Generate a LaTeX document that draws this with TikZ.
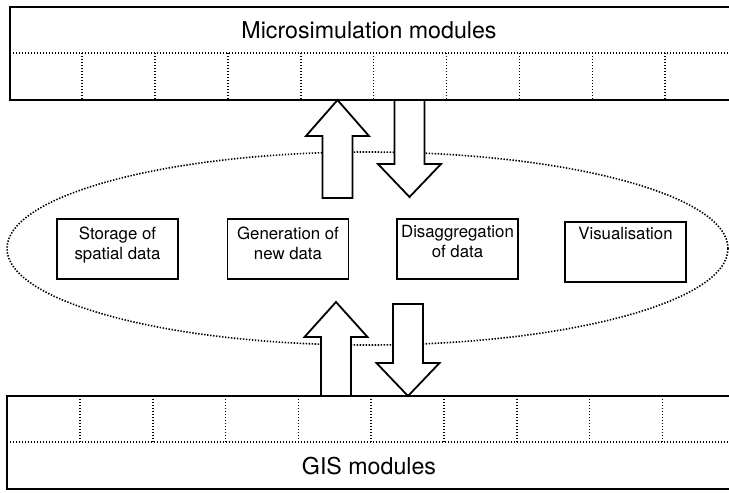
\documentclass[tikz,border=0pt]{standalone}
\usepackage{fontspec}
\setmainfont{TeX Gyre Heros}
\usetikzlibrary{positioning}

\tikzset{
  solidline/.style={line width=0.9pt},
  dotline/.style={line width=0.8pt, dash pattern=on 0.7pt off 0.8pt},
  bartitle/.style={inner sep=0pt, font=\fontsize{11.6}{14}\selectfont},
  procbox/.style={draw, line width=0.9pt, minimum width=60.5pt, minimum height=30pt, inner sep=0pt},
  proctext/.style={align=center, inner sep=0pt, font=\fontsize{8.4}{10}\selectfont},
  bigarrow/.style={draw, line width=0.9pt, fill=white, line join=miter}
}

\begin{document}
\begin{tikzpicture}[x=0.5pt, y=-0.5pt]
  \path[use as bounding box, clip] (0,0) rectangle (729,493);

  % module bars, top and bottom
  \draw[solidline] (10,7) rectangle (745,100);
  \draw[dotline] (10,53) -- (745,53);
  \foreach \i in {0,...,8}
    \draw[dotline] ({82+72.9*\i},53) -- ({82+72.9*\i},100);
  \node[bartitle] (micro) at (369,30) {Microsimulation modules};

  \draw[solidline] (7,396) rectangle (745,489);
  \draw[dotline] (7,442) -- (745,442);
  \foreach \i in {0,...,8}
    \draw[dotline] ({80+72.8*\i},396) -- ({80+72.8*\i},442);
  \node[bartitle] (gis) at (369,466) {GIS modules};

  % GIS functions
  \draw[dotline] (367.5,248.5) ellipse [x radius=360.5, y radius=96.5];

  \node[procbox] (store) at (117.5,249) {};
  \node[proctext, below=4.2pt of store.north] (store-txt) {Storage of\\spatial data};
  \node[procbox] (gen) at (288,249) {};
  \node[proctext, below=4.2pt of gen.north] (gen-txt) {Generation of\\new data};
  \node[procbox] (disagg) at (457.5,249) {};
  \node[proctext, below=3.2pt of disagg.north] (disagg-txt) {Disaggregation\\of data};
  \node[procbox] (vis) at (625.5,252) {};
  \node[proctext, below=3pt of vis.north] (vis-txt) {Visualisation};

  % exchange arrows: centre x / tail y / head base y / tip y
  \foreach \cx/\ya/\yb/\yc in {337.5/198/136/100, 409.5/100/164/197,
                              336/396/337/302, 408/304/363/396}
    \draw[bigarrow] (\cx-15,\ya) -- (\cx-15,\yb) -- (\cx-31.5,\yb) -- (\cx,\yc)
      -- (\cx+31.5,\yb) -- (\cx+15,\yb) -- (\cx+15,\ya) -- cycle;
\end{tikzpicture}
\end{document}
